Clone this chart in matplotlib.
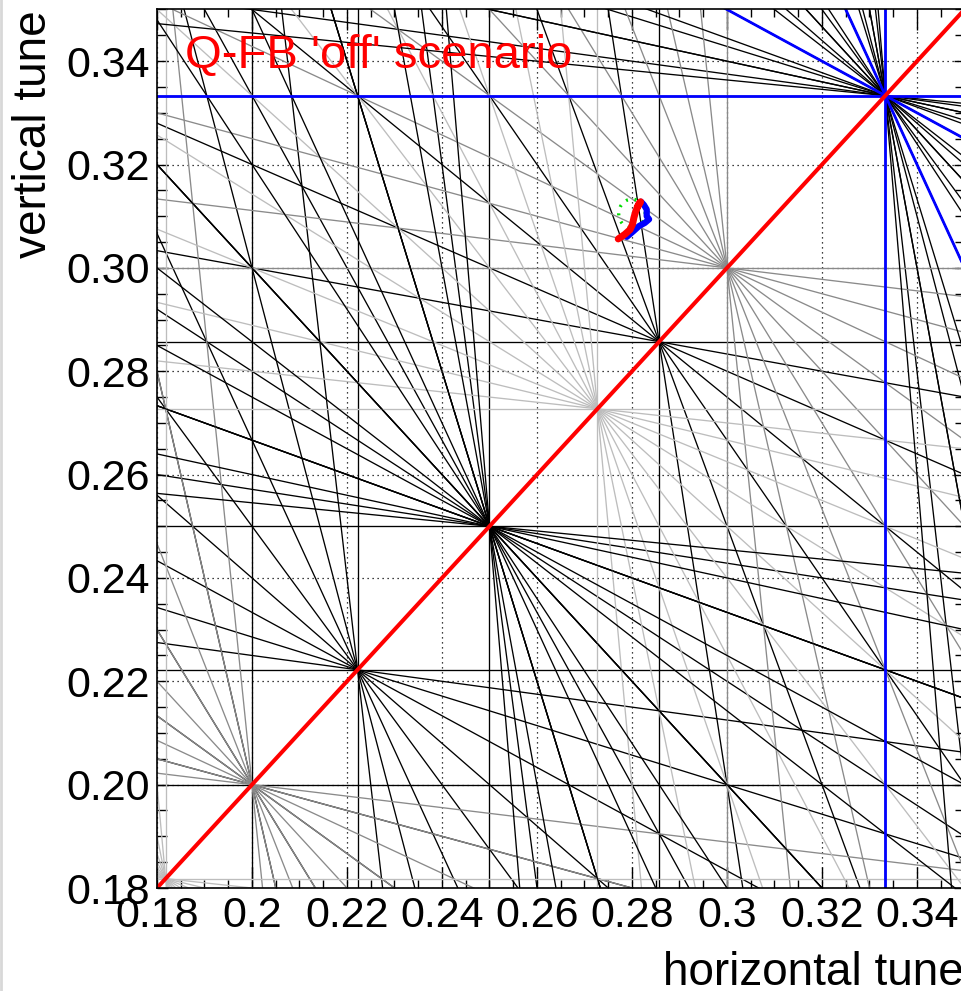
import numpy as np
import matplotlib
matplotlib.use("Agg")
import matplotlib.pyplot as plt
from matplotlib.lines import Line2D
from math import gcd

plt.rcParams['font.family'] = ['Liberation Sans', 'DejaVu Sans']

# ---------------- data ----------------
QX_LIM = (0.18, 0.35)
QY_LIM = (0.18, 0.35)
MAX_ORDER = 12
# colour of a resonance line by its order (orders not listed are black)
ORDER_COLORS = {10: '#8a8a8a', 11: '#bdbdbd'}
THIRD_ORDER_COLOR = '#0000ff'
COUPLING_COLOR = '#ff0000'

x_ticks = [0.18, 0.20, 0.22, 0.24, 0.26, 0.28, 0.30, 0.32, 0.34]
x_tick_labels = ['0.18', '0.2', '0.22', '0.24', '0.26', '0.28', '0.3', '0.32', '0.34']
y_ticks = [0.18, 0.20, 0.22, 0.24, 0.26, 0.28, 0.30, 0.32, 0.34]
y_tick_labels = ['0.18', '0.20', '0.22', '0.24', '0.26', '0.28', '0.30', '0.32', '0.34']

# measured tune traces
red_qx = [0.2771, 0.2785, 0.2796, 0.2801, 0.2804, 0.2808, 0.2813, 0.2818, 0.2811]
red_qy = [0.3056, 0.3065, 0.3074, 0.3084, 0.3097, 0.3110, 0.3120, 0.3128, 0.3118]
blue_qx = [0.2789, 0.2803, 0.2815, 0.2827, 0.2836, 0.2831, 0.2831, 0.2825, 0.2819]
blue_qy = [0.3060, 0.3071, 0.3081, 0.3087, 0.3094, 0.3100, 0.3113, 0.3122, 0.3128]
target_q = (0.2800, 0.3105)
target_radius = 0.0028

title_text = "Q-FB 'off' scenario"
xlabel_text = "horizontal tune"
ylabel_text = "vertical tune"

# ---------------- figure ----------------
W, H = 961, 991
fig = plt.figure(figsize=(W / 100, H / 100), dpi=100)
L, R, T, B = 157, 964.5, 9.5, 888
ax = fig.add_axes([L / W, 1 - B / H, (R - L) / W, (B - T) / H])
ax.set_xlim(*QX_LIM)
ax.set_ylim(*QY_LIM)

x0, x1 = QX_LIM
y0, y1 = QY_LIM
corners = [(x0, y0), (x0, y1), (x1, y0), (x1, y1)]


def draw_res(m, n, p, color, lw, z):
    if n == 0:
        xv = p / m
        ax.plot([xv, xv], [y0 - 1, y1 + 1], color=color, lw=lw, zorder=z, solid_capstyle='butt')
    elif m == 0:
        yv = p / n
        ax.plot([x0 - 1, x1 + 1], [yv, yv], color=color, lw=lw, zorder=z, solid_capstyle='butt')
    else:
        xs = np.array([x0 - 0.5, x1 + 0.5])
        ys = (p - m * xs) / n
        ax.plot(xs, ys, color=color, lw=lw, zorder=z, solid_capstyle='butt')


for N in range(1, MAX_ORDER + 1):
    col = ORDER_COLORS.get(N, '#000000')
    for m in range(0, N + 1):
        n = N - m
        vals = [m * cx + n * cy for cx, cy in corners]
        for p in range(0, N + 1):
            if not (min(vals) < p < max(vals)):
                continue
            g = gcd(gcd(m, n), p)
            if (m == 0 or n == 0) and g > 1:
                continue
            draw_res(m, n, p, col, 0.95, 2 + N * 0.01)

# third order resonances on top
for m in range(0, 4):
    n = 3 - m
    vals = [m * cx + n * cy for cx, cy in corners]
    for p in range(0, 4):
        if min(vals) < p < max(vals):
            draw_res(m, n, p, THIRD_ORDER_COLOR, 2.0, 3)

# coupling resonance
ax.plot([x0, x1], [y0, y1], color=COUPLING_COLOR, lw=2.9, zorder=4)

# target circle
th = np.linspace(0, 2 * np.pi, 200)
ax.plot(target_q[0] + target_radius * np.cos(th), target_q[1] + target_radius * np.sin(th),
        color='#00dd00', lw=2.4, linestyle=(0, (0.6, 2.0)), zorder=5)
ax.plot(blue_qx, blue_qy, color='#0000ff', lw=4.5, zorder=6, solid_capstyle='round', solid_joinstyle='round')
ax.plot(red_qx, red_qy, color='#ff0000', lw=5, zorder=7, solid_capstyle='round', solid_joinstyle='round')

# grid, ticks
ax.set_xticks(x_ticks)
ax.set_xticklabels(x_tick_labels)
ax.set_yticks(y_ticks)
ax.set_yticklabels(y_tick_labels)
ax.set_xticks(np.arange(0.18, 0.3501, 0.005), minor=True)
ax.set_yticks(np.arange(0.18, 0.3501, 0.005), minor=True)
ax.grid(True, which='major', color='black', linestyle=(0, (1, 3)), lw=0.9)
ax.set_axisbelow(True)
ax.tick_params(axis='both', which='both', direction='in', top=True, right=True,
               labelsize=31, width=1.0, color='black')
ax.tick_params(axis='x', which='major', length=15, pad=6)
ax.tick_params(axis='x', which='minor', length=6)
ax.tick_params(axis='y', which='major', length=8, pad=5)
ax.tick_params(axis='y', which='minor', length=7)
for s in ax.spines.values():
    s.set_linewidth(1.2)
    s.set_zorder(10)

fig.text(185 / W, 1 - 68 / H, title_text, color='#ff0000', fontsize=34, va='baseline', ha='left')
fig.text(964 / W, 1 - 985 / H, xlabel_text, fontsize=33, va='baseline', ha='right')
fig.text(34 / W, 1 - 10 / H, ylabel_text, fontsize=33, rotation=90, va='top', ha='center')

fig.add_artist(Line2D([0.001, 0.001], [0, 1], transform=fig.transFigure, color='#d8d8d8', lw=2))

fig.savefig('out.png', dpi=100)
